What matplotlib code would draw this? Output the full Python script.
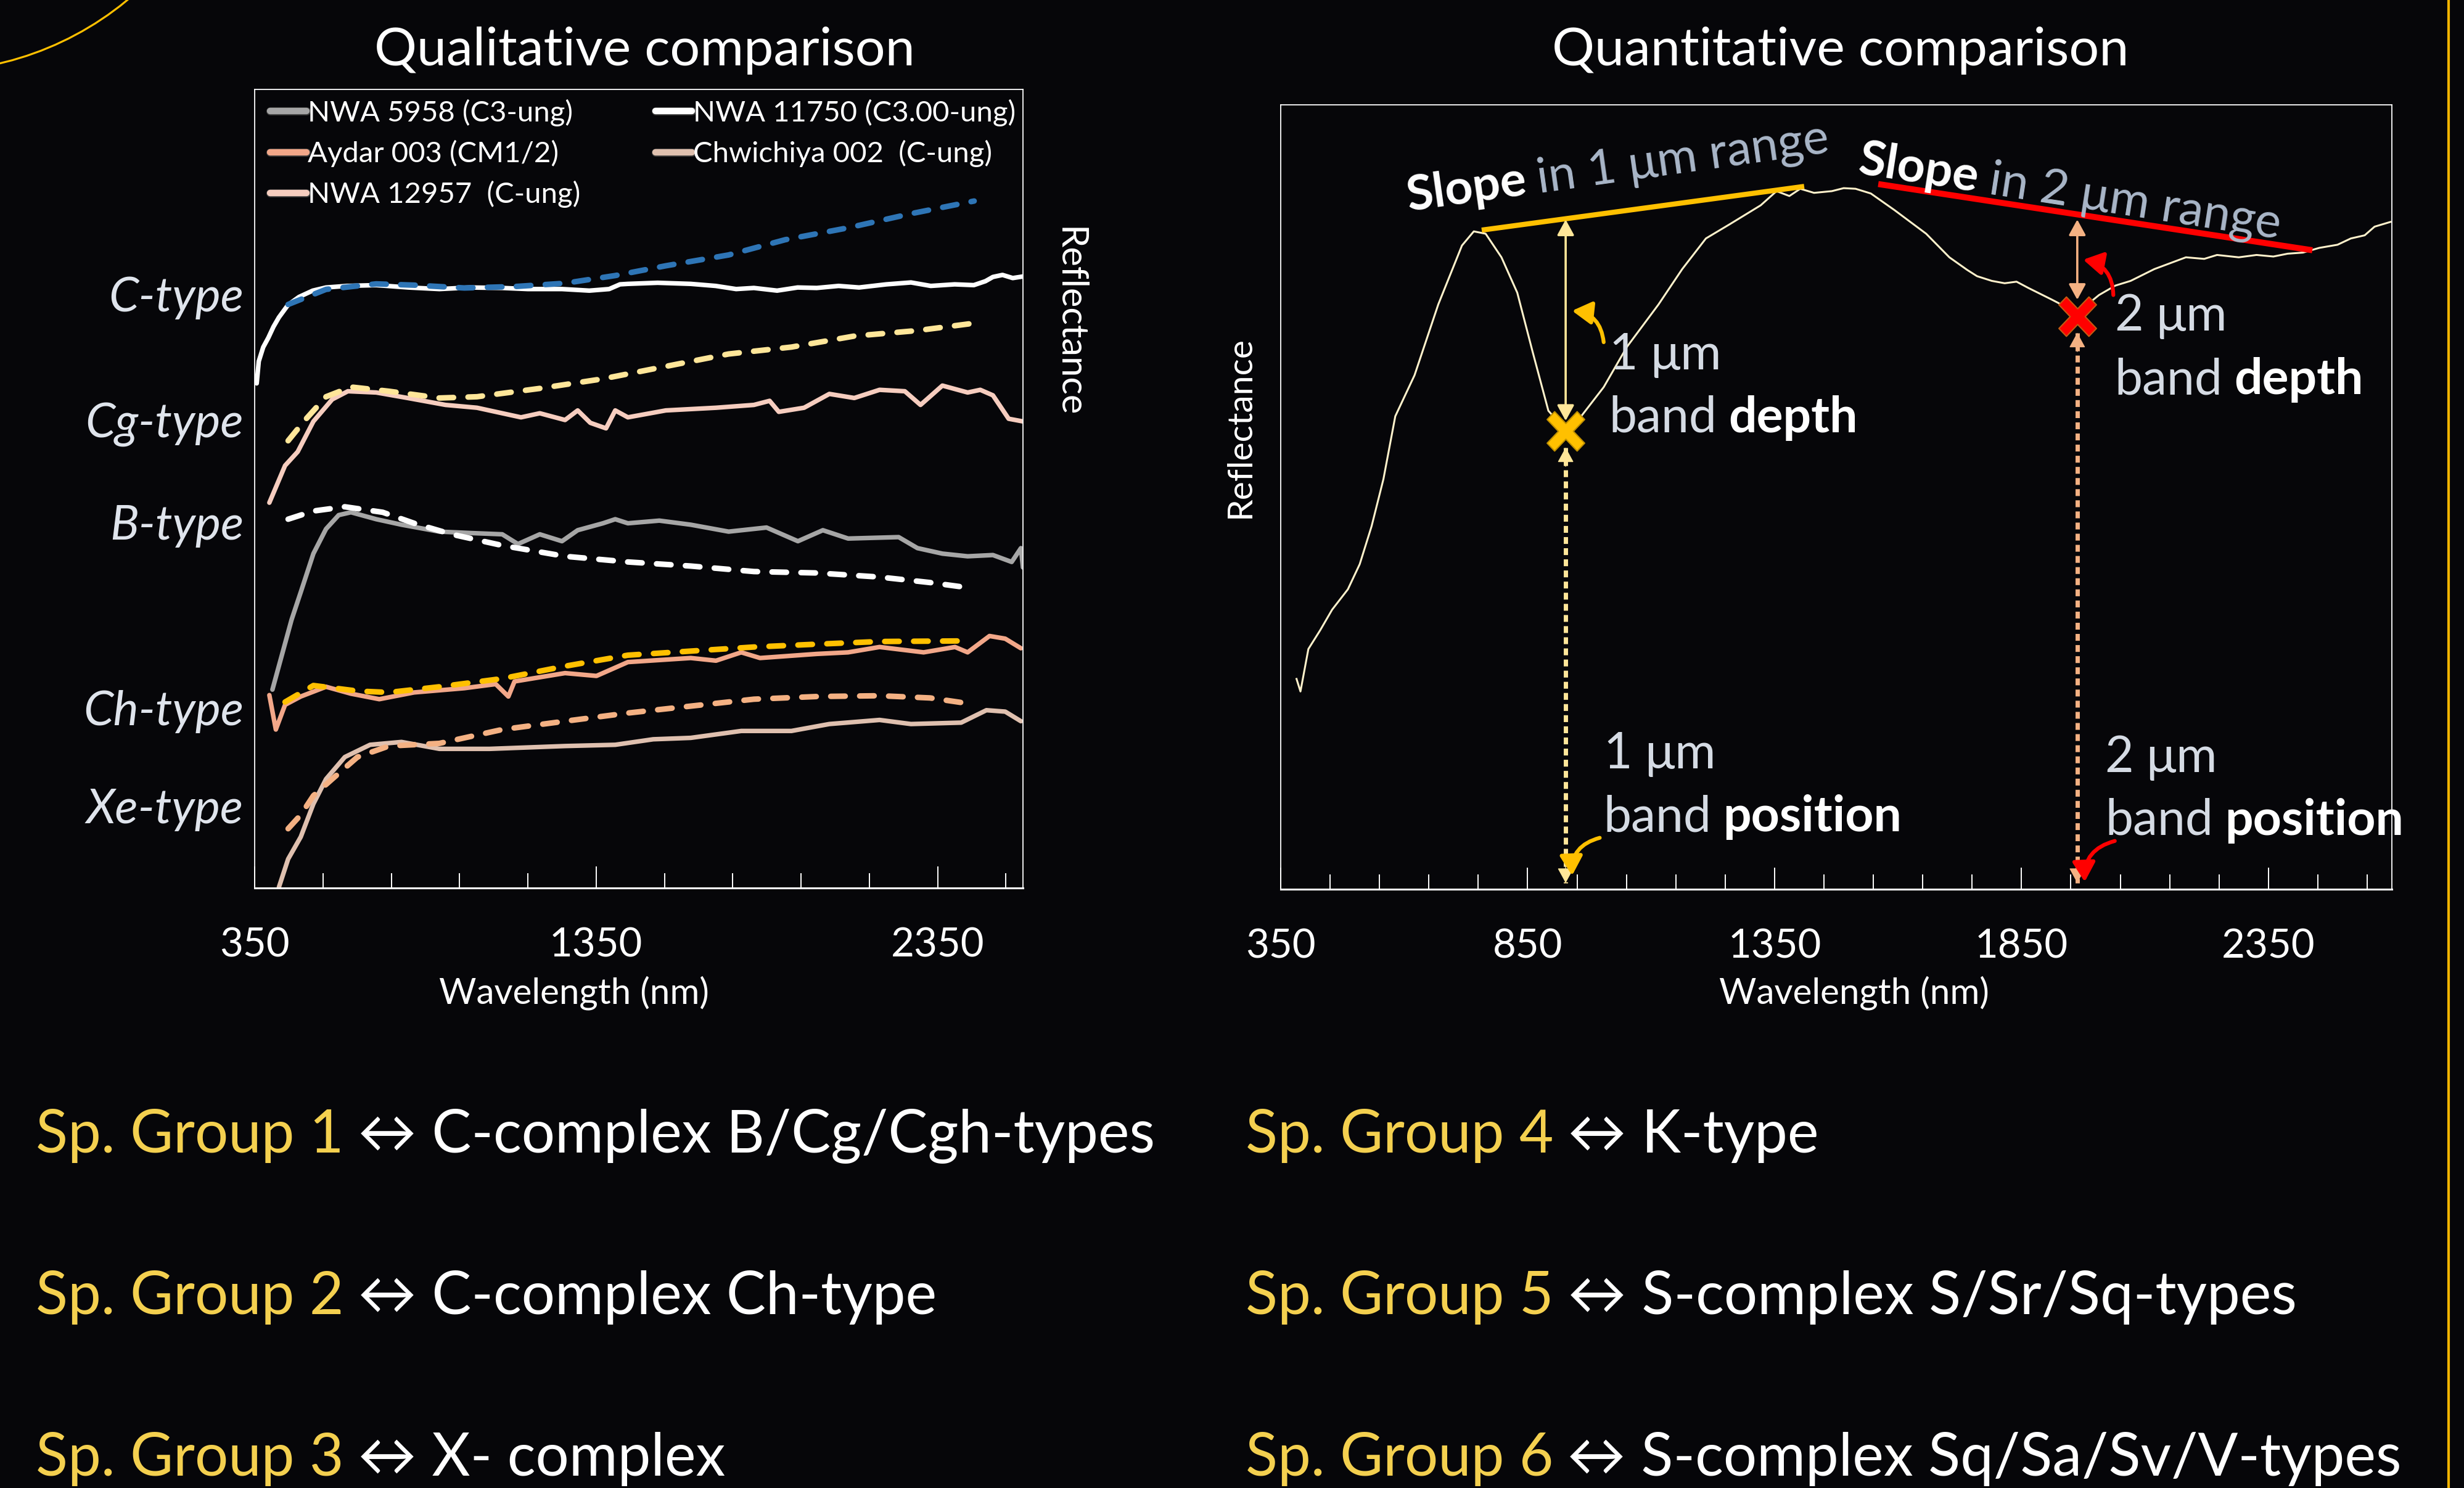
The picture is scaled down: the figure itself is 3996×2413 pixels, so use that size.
import numpy as np
import matplotlib
matplotlib.use("Agg")
import matplotlib.pyplot as plt
from matplotlib.lines import Line2D
from matplotlib.patches import Circle
from matplotlib.path import Path
from matplotlib.ticker import FixedLocator
import matplotlib.patheffects as pe
import matplotlib.transforms as mtransforms

W, H = 3996, 2413
BG = "#060609"
plt.rcParams["font.family"] = ["Lato", "DejaVu Sans"]

# ---------------- data: left panel (offset reflectance, arbitrary units) ----------------
nwa11750_nm = [356, 362, 375, 390, 405, 421, 448, 480, 520, 559, 620, 706, 800, 891, 980, 1075, 1150, 1250,
               1330, 1388, 1420, 1443, 1530, 1627, 1700, 1760, 1812, 1880, 1940, 1996, 2060, 2120, 2200,
               2272, 2330, 2400, 2456, 2490, 2512, 2540, 2570, 2600]
nwa11750_r = [321, 335, 344, 350, 357, 363, 371, 376, 380, 382, 383, 383.5, 382, 381, 382, 381.7, 381, 381,
              380, 381, 384, 384.3, 385, 384.3, 383, 381, 381.7, 380, 382, 381.7, 383, 382, 384,
              385.2, 383, 384, 383.5, 386, 388.7, 390, 388, 389]
ctype_nm = [448, 559, 706, 817, 964, 1111, 1259, 1406, 1554, 1738, 1904, 2089, 2273, 2457]
ctype_r = [371.2, 380.8, 384.3, 383.5, 381.7, 382.6, 384.7, 389.6, 395.8, 402.7, 412.4, 420, 429, 437]

nwa12957_nm = [393, 439, 476, 522, 577, 623, 706, 798, 909, 1001, 1130, 1185, 1259, 1296, 1333, 1379, 1406,
               1443, 1554, 1701, 1812, 1858, 1885, 1959, 2033, 2106, 2180, 2254, 2300, 2364, 2438, 2475,
               2512, 2558, 2600]
nwa12957_r = [245.1, 268.7, 277.5, 296.8, 310.8, 316, 315.2, 311.7, 307.3, 305.5, 299.4, 302, 297.7, 303.8,
              295.9, 292.4, 303.8, 299.4, 303.8, 305.5, 307.3, 309.9, 302.9, 305.5, 314.3, 311.7, 316.9,
              316, 307.3, 319.6, 315.2, 316.9, 313.4, 298.5, 296.8]
cgtype_nm = [448, 494, 559, 632, 743, 891, 1001, 1185, 1370, 1554, 1738, 1922, 2106, 2291, 2447]
cgtype_r = [284.5, 296.8, 312.5, 318.7, 316, 311.7, 312.5, 317.8, 323.9, 331.8, 339.7, 344.1, 351.1, 354.6, 359]

nwa5958_nm = [402, 458, 485, 522, 559, 596, 632, 706, 780, 891, 983, 1075, 1121, 1185, 1250, 1296, 1370,
              1406, 1443, 1535, 1627, 1738, 1849, 1941, 2014, 2088, 2236, 2291, 2364, 2438, 2512, 2567,
              2594, 2600]
nwa5958_r = [126.2, 170.6, 188.2, 212.7, 228.4, 237.2, 239, 234.6, 231.1, 226.7, 225.8, 225, 218.8, 225,
             220.6, 227.6, 232, 234.6, 232, 233.7, 231.1, 226.7, 229.3, 220.6, 227.6, 222.3, 223.2, 216.2,
             212.7, 211, 211.8, 207.4, 216.2, 203.9]
btype_nm = [448, 522, 614, 725, 817, 927, 1075, 1259, 1443, 1627, 1812, 1996, 2180, 2328, 2447]
btype_r = [234.6, 239.8, 242.5, 239, 232, 225, 217.9, 211, 207.4, 204.8, 201.3, 200.4, 197.8, 194.3, 190.8]

aydar_nm = [393, 412, 439, 485, 559, 632, 715, 817, 964, 1056, 1093, 1111, 1259, 1351, 1443, 1627, 1701,
            1775, 1830, 1996, 2088, 2180, 2309, 2401, 2438, 2502, 2548, 2594]
aydar_r = [122.7, 100.8, 116.5, 121.8, 128, 123.6, 120.1, 124.4, 127.1, 129.7, 121.8, 131.4, 136.7, 134.9,
           143.7, 146.3, 144.6, 149.9, 146.3, 148.9, 149.9, 153.3, 149.9, 153.3, 149.9, 160.3, 158.6, 152.5]
chtype_nm = [439, 522, 651, 743, 891, 1075, 1259, 1443, 1627, 1812, 1996, 2180, 2438]
chtype_r = [118.3, 128.8, 125.3, 124.4, 128, 133.2, 141.1, 148.1, 150.7, 153.3, 155.1, 156.8, 157.2]

chwichiya_nm = [421, 448, 485, 522, 559, 614, 688, 780, 891, 1038, 1259, 1406, 1517, 1627, 1775, 1922, 2033,
                2180, 2272, 2419, 2493, 2548, 2594]
chwichiya_r = [0.5, 18.4, 32.5, 53.5, 69.3, 83.3, 91.1, 92.9, 88.5, 88.5, 90.3, 91.1, 94.6, 95.5, 99.9, 99.9,
               104.3, 106.9, 104.3, 105.2, 113.1, 112.2, 106.1]
xetype_nm = [448, 485, 522, 577, 651, 743, 891, 1075, 1259, 1443, 1627, 1812, 1996, 2180, 2328, 2438]
xetype_r = [37.7, 46.5, 58.7, 69.3, 83.3, 90.3, 92, 100.8, 106.1, 111.3, 115.7, 120.1, 121.8, 122.3, 120.9, 117.4]

type_labels = ["C-type", "Cg-type", "B-type", "Ch-type", "Xe-type"]
type_label_r = [375.6, 295, 230.3, 112.2, 50]

legend_col1 = ["NWA 5958 (C3-ung)", "Aydar 003 (CM1/2)", "NWA 12957  (C-ung)"]
legend_col2 = ["NWA 11750 (C3.00-ung)", "Chwichiya 002  (C-ung)"]

# ---------------- data: right panel ----------------
ex_nm = [382, 390, 406, 430, 454, 486, 510, 534, 558, 582, 621, 669, 717, 741, 765, 797, 829, 860, 892, 924,
         956, 1004, 1051, 1115, 1163, 1211, 1259, 1322, 1354, 1380, 1402, 1430, 1466, 1490, 1514, 1545, 1593,
         1657, 1704, 1740, 1760, 1790, 1816, 1840, 1864, 1912, 1963, 2007, 2040, 2071, 2119, 2183, 2220, 2246,
         2290, 2326, 2360, 2389, 2420, 2453, 2490, 2517, 2545, 2565, 2597]
ex_r = [133.8, 125.8, 152.8, 164.8, 177.8, 190.8, 206.8, 230.9, 260.9, 300.9, 327, 372, 409.5, 418.5, 417,
        402, 379.5, 342, 304.4, 292.9, 299.9, 319.4, 345, 372, 394.5, 414, 423, 435.1, 444.1, 441, 445.6,
        443, 444.1, 446, 445.6, 442.6, 432, 417, 402, 394, 390, 387, 385.5, 386.5, 382.5, 375, 366.7, 378,
        384, 387, 394.5, 402, 401, 403.5, 402, 403.5, 402.5, 404.3, 405, 408, 410, 414, 416, 421.5, 424.5]
slope1_nm = [757, 1410]
slope1_r = [419.3, 447.1]
slope2_nm = [1560, 2439]
slope2_r = [448.6, 406.5]
band1_nm, band1_r = 927, 291.6
band2_nm, band2_r = 1963, 364.3

groups_left = [("Sp. Group 1", "\u2194 C-complex B/Cg/Cgh-types"),
               ("Sp. Group 2", "\u2194 C-complex Ch-type"),
               ("Sp. Group 3", "\u2194 X- complex")]
groups_right = [("Sp. Group 4", "\u2194 K-type"),
                ("Sp. Group 5", "\u2194 S-complex S/Sr/Sq-types"),
                ("Sp. Group 6", "\u2194 S-complex Sq/Sa/Sv/V-types")]

# ---------------- figure ----------------
fig = plt.figure(figsize=(W / 100, H / 100), dpi=100, facecolor=BG)
ax1 = fig.add_axes([413 / W, 1 - 1440 / H, 1246 / W, 1295 / H], facecolor=BG)
ax2 = fig.add_axes([2077 / W, 1 - 1442 / H, 1802 / W, 1272 / H], facecolor=BG)
ov = fig.add_axes([0, 0, 1, 1], zorder=5)
ov.set_xlim(0, W)
ov.set_ylim(H, 0)
ov.axis("off")
ov.patch.set_alpha(0)

for ax in (ax1, ax2):
    for s in ax.spines.values():
        s.set_color("white")
        s.set_linewidth(1.3)
    ax.spines["bottom"].set_linewidth(2.2)
    ax.set_yticks([])
    ax.set_xlim(350, 2600)
    ax.tick_params(axis="x", which="both", direction="in", colors="white", labelsize=47, pad=46, width=1.4)
    ax.tick_params(axis="x", which="major", length=25)
    ax.tick_params(axis="x", which="minor", length=17)

ax1.set_ylim(0, 508)
ax2.set_ylim(0, 499)
ax1.xaxis.set_major_locator(FixedLocator([350, 1350, 2350]))
ax1.xaxis.set_minor_locator(FixedLocator(np.arange(350, 2600, 200)))
ax2.xaxis.set_major_locator(FixedLocator(np.arange(350, 2400, 500)))
ax2.xaxis.set_minor_locator(FixedLocator(np.arange(350, 2600, 100)))

for ax, lx, ly in ((ax1, 0.4157, -0.131), (ax2, 0.516, -0.132)):
    ax.set_xlabel("Wavelength (nm)", color="white", fontsize=42)
    ax.xaxis.set_label_coords(lx, ly)
    ax.xaxis.label.set_va("center")

# ---- left panel curves ----
SOLID = dict(lw=5.3, solid_capstyle="round", solid_joinstyle="round")
DASH = dict(lw=6.5, dashes=(2.6, 2.6), dash_capstyle="round")
ax1.plot(nwa11750_nm, nwa11750_r, color="#ffffff", **SOLID)
ax1.plot(nwa12957_nm, nwa12957_r, color="#f6cdbf", **SOLID)
ax1.plot(nwa5958_nm, nwa5958_r, color="#a6a6a6", **SOLID)
ax1.plot(aydar_nm, aydar_r, color="#f2a789", **SOLID)
ax1.plot(chwichiya_nm, chwichiya_r, color="#dfc0af", **SOLID)
ax1.plot(ctype_nm, ctype_r, color="#2e75b6", **DASH)
ax1.plot(cgtype_nm, cgtype_r, color="#ffe699", **DASH)
ax1.plot(btype_nm, btype_r, color="#ffffff", **DASH)
ax1.plot(chtype_nm, chtype_r, color="#ffc000", **DASH)
ax1.plot(xetype_nm, xetype_r, color="#f4b183", **DASH)

blend = mtransforms.blended_transform_factory(ax1.transAxes, ax1.transData)
for lab, r in zip(type_labels, type_label_r):
    ax1.text(-0.0144, r, lab, transform=blend, ha="right", va="center", style="italic",
             color="#dfe4ec", fontsize=56)
ax1.text(1.0600, 0.709, "Reflectance", transform=ax1.transAxes, rotation=-90, ha="center",
         va="center", color="white", fontsize=43)

def handle(c):
    return Line2D([], [], color=c, lw=7.5, solid_capstyle="round",
                  path_effects=[pe.withStroke(linewidth=9.5, foreground="#3a3a3a")])

legkw = dict(loc="upper left", frameon=False, fontsize=34, handlelength=1.25, handletextpad=0.05,
             labelspacing=0.47, borderpad=0, borderaxespad=0, labelcolor="white")
leg1 = ax1.legend([handle(c) for c in ("#a6a6a6", "#f2a789", "#f6cdbf")], legend_col1,
                  bbox_to_anchor=(0.02, 0.988), **legkw)
ax1.add_artist(leg1)
ax1.legend([handle(c) for c in ("#ffffff", "#dfc0af")], legend_col2,
           bbox_to_anchor=(0.5217, 0.988), **legkw)

# ---- right panel ----
ax2.plot(ex_nm, ex_r, color="#fff2cc", lw=2.2, solid_joinstyle="round")
ax2.plot(slope1_nm, slope1_r, color="#ffc000", lw=6, solid_capstyle="butt")
ax2.plot(slope2_nm, slope2_r, color="#ff0000", lw=7, solid_capstyle="butt")

def darrow(x, y0, y1, color):
    ax2.annotate("", xy=(x, y1), xytext=(x, y0),
                 arrowprops=dict(arrowstyle="<|-|>,head_length=0.55,head_width=0.3", color=color, lw=2.6,
                                 mutation_scale=28, shrinkA=0, shrinkB=0))

def dotted(x, y0, y1, color):
    ax2.plot([x, x], [y0, y1], color=color, lw=5, dashes=(1.6, 1.0), dash_capstyle="butt")
    for tip, base in ((y0, y0 - 12), (y1, y1 + 12)):
        ax2.annotate("", xy=(x, tip), xytext=(x, base),
                     arrowprops=dict(arrowstyle="-|>,head_length=0.55,head_width=0.3", color=color, lw=1,
                                     mutation_scale=28, shrinkA=0, shrinkB=0))

def curved(xy_tail, xy_head, color):
    ax2.annotate("", xy=xy_head, xytext=xy_tail,
                 arrowprops=dict(arrowstyle="-|>,head_length=0.6,head_width=0.35", color=color, lw=4.5,
                                 connectionstyle="arc3,rad=0.4", mutation_scale=32, shrinkA=0, shrinkB=0))

darrow(band1_nm, 426, 298, "#ffe699")
dotted(band1_nm, 281, 4, "#ffe699")
darrow(band2_nm, 426, 375, "#f4b183")
dotted(band2_nm, 354, 4, "#f4b183")

a = 0.75
L = 3.0
base = np.array([(-a, -L), (a, -L), (a, -a), (L, -a), (L, a), (a, a), (a, L), (-a, L), (-a, a), (-L, a),
                 (-L, -a), (-a, -a), (-a, -L)])
c45 = np.cos(np.pi / 4)
rot = base @ np.array([[c45, c45], [-c45, c45]])
rot[:, 1] *= 1.05
xmark = Path(rot, closed=True)
ax2.plot([band1_nm], [band1_r], marker=xmark, ms=46, mfc="#ffc000", mec="#bf8f00", mew=1.5, zorder=6)
ax2.plot([band2_nm], [band2_r], marker=xmark, ms=46, mfc="#ff0000", mec="#c55a11", mew=1.5, zorder=6)

curved((1004, 348), (940, 368), "#ffc000")
curved((2036, 378), (1975, 400.5), "#ff0000")
curved((996, 32.7), (940, 8.7), "#ffc000")
curved((2039, 30.7), (1978, 4.7), "#ff0000")

ax2.text(-0.0366, 0.589, "Reflectance", transform=ax2.transAxes, rotation=90, ha="center", va="center",
         color="white", fontsize=41)

# ---- overlay: titles, decorations, rich text ----
ov.add_patch(Circle((-115, -388), 504, fill=False, ec="#ffc000", lw=2.3))
ov.plot([3971, 3971], [0, H], color="#f2b300", lw=3)

fig.text(1045 / W, 1 - 106 / H, "Qualitative comparison", ha="center", va="baseline", color="white",
         fontsize=62)
fig.text(2985 / W, 1 - 106 / H, "Quantitative comparison", ha="center", va="baseline", color="white",
         fontsize=62)

renderer = fig.canvas.get_renderer()

def rich(x, y, parts, fs, rot=0.0, gap=0.23):
    th = np.deg2rad(rot)
    cx, cy = x, y
    for i, (s, col, wt) in enumerate(parts):
        t = ov.text(cx, cy, s, ha="left", va="baseline", color=col, fontweight=wt, fontsize=fs,
                    rotation=0, rotation_mode="anchor")
        w = t.get_window_extent(renderer).width
        t.set_rotation(rot)
        w += gap * fs * 100 / 72
        cx += w * np.cos(th)
        cy -= w * np.sin(th)

def to_px(nm, r):
    d = ax2.transData.transform((nm, r))
    return d[0], H - d[1]

GRAY = "#d5dbe4"
x, y = to_px(609, 431.4)
rich(x, y, [("Slope", "white", "bold"), ("in 1 \u03bcm range", "#aab7c9", "normal")], 57, rot=8.0)
x, y = to_px(1517, 455.3)
rich(x, y, [("Slope", "white", "bold"), ("in 2 \u03bcm range", "#aab7c9", "normal")], 57, rot=-8.8)

for (nm, r1, r2, word) in ((1015, 330.6, 290.7, "depth"), (2039, 355.5, 314.9, "depth"),
                           (1004, 76.7, 36.7, "position"), (2020, 74.7, 34.7, "position")):
    mu = "1 \u03bcm" if nm < 1500 else "2 \u03bcm"
    x, y = to_px(nm, r1)
    rich(x, y, [(mu, GRAY, "normal")], 58)
    x, y = to_px(nm, r2)
    rich(x, y, [("band", GRAY, "normal"), (word, "white", "bold")], 58)

GOLD = "#f4d04f"
for rows, x0 in ((groups_left, 58), (groups_right, 2020)):
    for (g, rest), yb in zip(rows, (1869, 2131, 2393)):
        rich(x0, yb, [(g, GOLD, "normal"), (rest, "white", "normal")], 69)

fig.savefig("out.png", dpi=100, facecolor=BG)
